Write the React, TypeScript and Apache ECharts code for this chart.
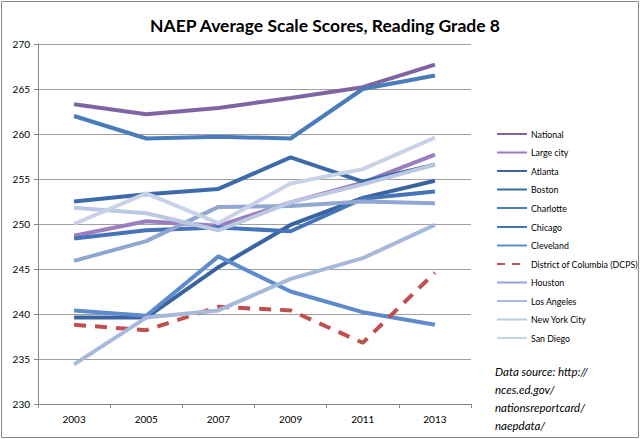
import React, { useEffect, useRef } from "react";
import * as echarts from "echarts";

const years = ["2003", "2005", "2007", "2009", "2011", "2013"];

const national = [263.3, 262.2, 262.9, 264.0, 265.2, 267.7];
const largeCity = [248.7, 250.3, 249.8, 252.4, 254.6, 257.7];
const atlanta = [239.6, 239.6, 245.2, 249.9, 252.9, 254.8];
const boston = [252.5, 253.3, 253.9, 257.4, 254.7, 256.6];
const charlotte = [262.0, 259.5, 259.7, 259.5, 265.0, 266.5];
const chicago = [248.4, 249.3, 249.6, 249.2, 252.8, 253.6];
const cleveland = [240.4, 239.8, 246.4, 242.5, 240.2, 238.8];
const dcps = [238.8, 238.2, 240.8, 240.4, 236.8, 244.6];
const houston = [245.9, 248.1, 251.9, 252.0, 252.5, 252.3];
const losAngeles = [234.4, 239.6, 240.4, 243.9, 246.2, 249.9];
const newYork = [251.8, 251.2, 249.3, 252.4, 254.4, 256.6];
const sanDiego = [250.0, 253.4, 250.1, 254.5, 256.1, 259.6];

const seriesDefs = [
  { name: "National", data: national, color: "#8064A2" },
  { name: "Large city", data: largeCity, color: "#9A7EBE" },
  { name: "Atlanta", data: atlanta, color: "#3A63A0" },
  { name: "Boston", data: boston, color: "#3D6AA8" },
  { name: "Charlotte", data: charlotte, color: "#4A7CBA" },
  { name: "Chicago", data: chicago, color: "#4574B8" },
  { name: "Cleveland", data: cleveland, color: "#5D8BCB" },
  { name: "District of Columbia (DCPS)", data: dcps, color: "#C0504D", dashed: true },
  { name: "Houston", data: houston, color: "#91A6D0" },
  { name: "Los Angeles", data: losAngeles, color: "#A7B9DB" },
  { name: "New York City", data: newYork, color: "#BAC8E2" },
  { name: "San Diego", data: sanDiego, color: "#C8D3E8" },
];

const sourceLines = ["Data source: http://", "nces.ed.gov/", "nationsreportcard/", "naepdata/"];

export default function App() {
  const ref = useRef<HTMLDivElement>(null);
  useEffect(() => {
    document.body.style.margin = "0";
    const chart = echarts.init(ref.current!, null, { renderer: "svg" });
    const font = "Lato, 'DejaVu Sans', sans-serif";
    const legendTop = 134;
    const legendStep = 18.55;
    const legendItems: any[] = [];
    seriesDefs.forEach((s, i) => {
      const y = Math.round((legendTop + i * legendStep) * 2) / 2;
      legendItems.push({
        type: "line",
        silent: true,
        shape: { x1: 497, y1: y, x2: 527, y2: y },
        style: {
          stroke: s.color,
          lineWidth: 2,
          lineDash: s.dashed ? [8, 7] : null,
        },
      });
      legendItems.push({
        type: "text",
        silent: true,
        x: 531,
        y: y,
        scaleX: 0.88,
        style: {
          text: s.name,
          fontSize: 10,
          fill: "#000",
          fontFamily: font,
          verticalAlign: "middle",
          align: "left",
        },
      });
    });
    chart.setOption({
      animation: false,
      backgroundColor: "#fff",
      textStyle: { fontFamily: font },
      title: {
        text: "NAEP Average Scale Scores, Reading Grade 8",
        left: 320,
        textAlign: "center",
        top: 11,
        textStyle: { fontSize: 17.5, fontWeight: "bold", color: "#000", fontFamily: font },
      },
      grid: { left: 38, right: 169, top: 44, bottom: 35 },
      xAxis: {
        type: "category",
        data: years,
        boundaryGap: true,
        axisLine: { lineStyle: { color: "#888", width: 1 } },
        axisTick: { show: true, length: 4, lineStyle: { color: "#888" } },
        axisLabel: { color: "#000", fontSize: 10, margin: 10, fontFamily: font },
      },
      yAxis: {
        type: "value",
        min: 230,
        max: 270,
        interval: 5,
        axisLine: { show: true, lineStyle: { color: "#888", width: 1 } },
        axisTick: { show: true, length: 4, lineStyle: { color: "#888" } },
        axisLabel: { color: "#000", fontSize: 10, margin: 8, fontFamily: font },
        splitLine: { lineStyle: { color: "#a0a0a0", width: 1 } },
      },
      graphic: [
        {
          type: "rect",
          shape: { x: 1.5, y: 1.5, width: 637, height: 436 },
          style: { fill: "none", stroke: "#888", lineWidth: 1 },
          silent: true,
        },
        ...legendItems,
        ...sourceLines.map((t, i) => ({
          type: "text",
          silent: true,
          x: 495,
          y: 371 + i * 18,
          style: {
            text: t,
            fontSize: 11.5,
            fontStyle: "italic",
            fill: "#000",
            fontFamily: font,
            verticalAlign: "middle",
          },
        })),
      ],
      series: seriesDefs.map((s) => ({
        name: s.name,
        type: "line",
        data: s.data,
        symbol: "none",
        showSymbol: false,
        itemStyle: { color: s.color },
        lineStyle: {
          color: s.color,
          width: 4,
          type: s.dashed ? [12, 9] : "solid",
          cap: "butt",
        },
      })),
    });
    return () => chart.dispose();
  }, []);
  return <div ref={ref} style={{ width: 640, height: 439 }} />;
}
